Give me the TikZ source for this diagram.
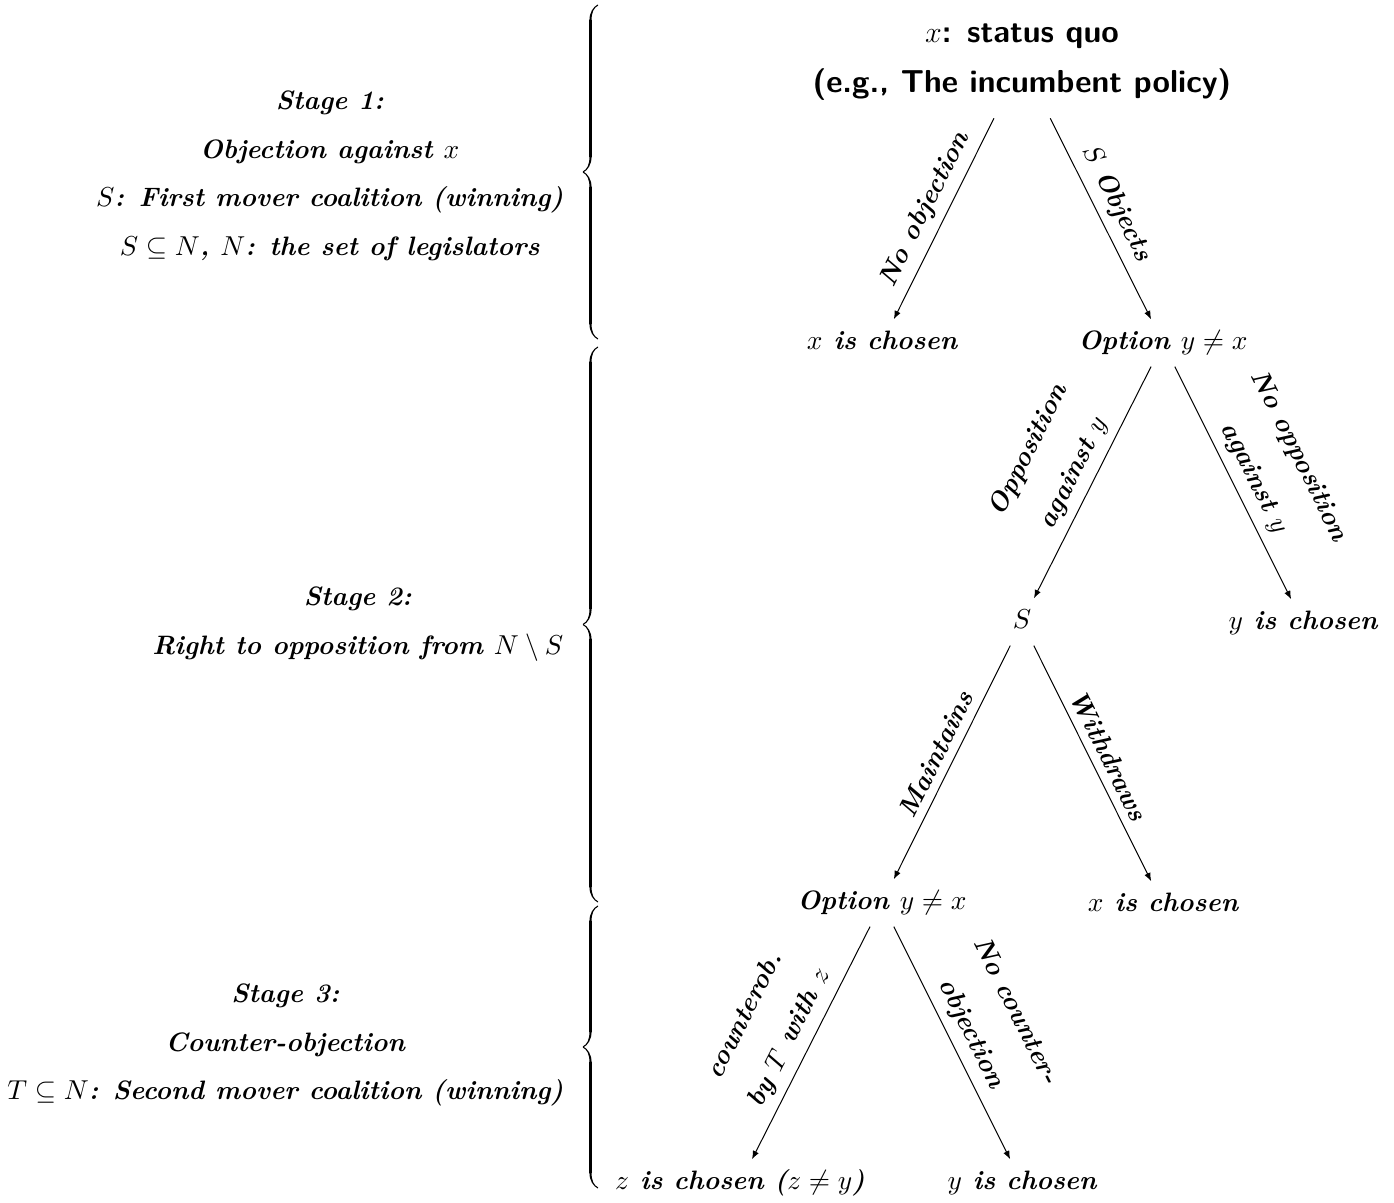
\documentclass[tikz,border=0pt]{standalone}
\usetikzlibrary{arrows.meta,decorations.pathreplacing,calligraphy}
\begin{document}
\begin{tikzpicture}[x=0.4pt,y=-0.4pt,
  tnode/.style={font=\fontsize{10.65}{13}\selectfont\bfseries\itshape, text height=8pt, text depth=2.5pt, inner sep=4pt},
  rootnode/.style={font=\fontsize{12.7}{20}\selectfont\sffamily\bfseries, align=center, inner sep=7pt},
  arr/.style={-{Latex[length=3.4pt,width=2.6pt]}, line width=0.4pt},
  elab/.style={midway, sloped, above, align=center, font=\fontsize{10.65}{20}\selectfont\bfseries\itshape},
  stage/.style={anchor=east, align=center, font=\fontsize{10.65}{19.4}\selectfont\bfseries\itshape},
  stagebrace/.style={decorate, decoration={calligraphic brace, amplitude=6pt}, line width=0.85pt},
]
\useasboundingbox (0,0) rectangle (1394,1203);
% tree nodes
\node[rootnode] (r) at (1022,62) {$x$: status quo\\(e.g., The incumbent policy)};
\node[tnode] (a1) at (882,343) {$x$ is chosen};
\node[tnode] (b1) at (1163,343) {Option $y\neq x$};
\node[tnode] (a2) at (1022,622) {$S$};
\node[tnode] (b2) at (1303,623) {$y$ is chosen};
\node[tnode] (a3) at (882,903) {Option $y\neq x$};
\node[tnode] (b3) at (1163,905) {$x$ is chosen};
\node[tnode] (a4) at (740,1183) {$z$ is chosen ($z\neq y$)};
\node[tnode] (b4) at (1022,1183) {$y$ is chosen};
% edges
\draw[arr] (r) -- (a1) node[elab] {No objection};
\draw[arr] (r) -- (b1) node[elab, pos=0.47] {$S$ Objects};
\draw[arr] (b1) -- (a2) node[elab, pos=0.5] {Opposition\\against $y$};
\draw[arr] (b1) -- (b2) node[elab, pos=0.52] {No opposition\\against $y$};
\draw[arr] (a2) -- (a3) node[elab] {Maintains};
\draw[arr] (a2) -- (b3) node[elab] {Withdraws};
\draw[arr] (a3) -- (a4) node[elab, pos=0.52] {counterob.\\by $T$ with $z$};
\draw[arr] (a3) -- (b4) node[elab, pos=0.5] {No counter-\\objection};
% stage descriptions
\node[stage] (s1) at (572,176) {Stage 1:\\Objection against $x$\\$S$: First mover coalition (winning)\\$S\subseteq N$, $N$: the set of legislators};
\node[stage] (s2) at (572,624) {Stage 2:\\Right to opposition from $N\setminus S$};
\node[stage] (s3) at (572,1045) {Stage 3:\\Counter-objection\\$T\subseteq N$: Second mover coalition (winning)};
% braces
\coordinate (b1bot) at (598,339);
\coordinate (b1top) at (598,5);
\coordinate (b2bot) at (598,902);
\coordinate (b2top) at (598,347);
\coordinate (b3bot) at (598,1188);
\coordinate (b3top) at (598,906);
\draw[stagebrace] (b1bot) -- (b1top);
\draw[stagebrace] (b2bot) -- (b2top);
\draw[stagebrace] (b3bot) -- (b3top);
\end{tikzpicture}
\end{document}
